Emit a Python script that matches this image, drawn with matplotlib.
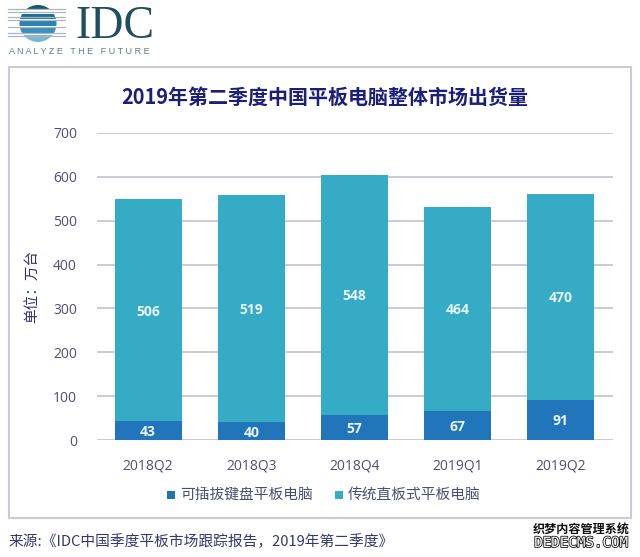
import matplotlib
matplotlib.use('Agg')
import matplotlib.pyplot as plt
import matplotlib.patheffects as pe
from matplotlib.patches import Rectangle, Circle

plt.rcParams['font.family'] = ['Noto Sans CJK SC', 'DejaVu Sans']

quarters = ['2018Q2', '2018Q3', '2018Q4', '2019Q1', '2019Q2']
detachable = [43, 40, 57, 67, 91]
slate = [506, 519, 548, 464, 470]
y_ticks = [0, 100, 200, 300, 400, 500, 600, 700]

W, H = 640, 557
fig = plt.figure(figsize=(W / 100, H / 100), dpi=100, facecolor='white')

def box(l, t, r, b):
    return [l / W, 1 - b / H, (r - l) / W, (b - t) / H]

bg = fig.add_axes([0, 0, 1, 1], zorder=0)
bg.set_xlim(0, W)
bg.set_ylim(H, 0)
bg.axis('off')
bg.add_patch(Rectangle((9, 67), 622, 451, fc='white', ec='#c9cbdd', lw=1.5))

# Logo: striped globe with horizontal lines
globe = Circle((38, 23.5), 18.5, transform=bg.transData, fc='none', ec='none')
bg.add_patch(globe)
bands = [(5, 9, '#1d5872'), (9, 14, '#ffffff'), (14, 19, '#1f6d96'), (19, 21, '#ffffff'), (21, 26, '#2a82b4'),
         (26, 28, '#ffffff'), (28, 33, '#3a8fc0'), (33, 35, '#ffffff'), (35, 42, '#7fb4d3')]
for t, b, c in bands:
    r = Rectangle((19, t), 38, b - t, fc=c, ec='none')
    bg.add_patch(r)
    r.set_clip_path(globe)
for y in [9, 12, 17, 20, 27, 33, 36]:
    bg.plot([8, 65], [y, y], color='#a9b8c0', lw=0.9, zorder=3)
bg.text(75, 38.5, 'IDC', family='Liberation Serif', fontsize=33, color='#1f4e63', va='baseline', ha='left')
bg.text(9, 51.5, 'A N A L Y Z E   T H E   F U T U R E', family='Liberation Sans', fontsize=6.5,
        color='#5f7f8f', va='center', ha='left')

ax = fig.add_axes(box(96.5, 133, 612.5, 440), zorder=1)
ax.patch.set_alpha(0)
x = range(len(quarters))
ax.bar(x, detachable, width=0.65, color='#2176bb', zorder=3)
ax.bar(x, slate, bottom=detachable, width=0.65, color='#36abc6', zorder=3)
label_style = dict(ha='center', va='center', color='#e8f6fa', fontsize=10, family='Open Sans',
                   fontweight='bold', zorder=4, textcoords='offset points', xytext=(0, -1))
for i, (d, s) in enumerate(zip(detachable, slate)):
    ax.annotate(str(d), (i, d / 2), **label_style)
    ax.annotate(str(s), (i, d + s / 2), **label_style)
ax.set_xlim(-0.5, 4.5)
ax.set_ylim(0, 700)
ax.set_yticks(y_ticks)
ax.set_xticks(list(x))
ax.set_xticklabels(quarters)
ax.tick_params(length=0, labelsize=10, colors='#4f4f70')
for lab in ax.get_xticklabels() + ax.get_yticklabels():
    lab.set_family('Open Sans')
ax.tick_params(axis='x', pad=13)
ax.tick_params(axis='y', pad=14)
ax.grid(axis='y', color='#bdbccb', lw=1.1, zorder=0)
for s in ax.spines.values():
    s.set_visible(False)
ax.set_axisbelow(True)

bg.text(325, 97, '2019年第二季度中国平板电脑整体市场出货量', ha='center', va='center',
        fontsize=14.4, fontweight='bold', color='#1b1f78')
bg.text(32, 286, '单位：万台', rotation=90, ha='center', va='center', fontsize=10.5, color='#2e2f7a')

bg.add_patch(Rectangle((167, 491), 8, 8, fc='#2176a8', ec='none'))
bg.text(180, 494.5, '可插拔键盘平板电脑', ha='left', va='center', fontsize=10.6, color='#4a4f70')
bg.add_patch(Rectangle((335, 491), 8, 8, fc='#36abc6', ec='none'))
bg.text(348, 494.5, '传统直板式平板电脑', ha='left', va='center', fontsize=10.6, color='#4a4f70')

bg.text(9, 542, '来源:《IDC中国季度平板市场跟踪报告，2019年第二季度》', ha='left', va='center',
        fontsize=10.6, color='#33386e')

# Watermark
bg.text(581, 529.5, '织梦内容管理系统', ha='center', va='center', fontsize=8.7, fontweight='bold', color='#111111')
bg.text(581, 543, 'DEDECMS.COM', family='DejaVu Sans Mono', ha='center', va='center', fontsize=10.2,
        color='#ffffff', path_effects=[pe.withStroke(linewidth=1.2, foreground='#111111')])

fig.savefig('out.png', dpi=100)
